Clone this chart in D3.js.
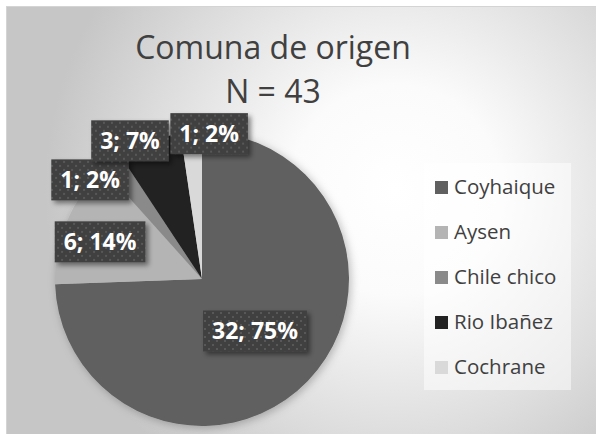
<!DOCTYPE html>
<html>
<head>
<meta charset="utf-8">
<script src="https://cdn.jsdelivr.net/npm/d3@7"></script>
<style>
  html, body { margin: 0; padding: 0; background: #ffffff; }
  svg { display: block; }
</style>
</head>
<body>
<svg id="chart" width="596" height="434"></svg>
<script>
// ---- data ----
const categories = ["Coyhaique", "Aysen", "Chile chico", "Rio Ibañez", "Cochrane"];
const values = [32, 6, 1, 3, 1];
const percentLabels = ["75%", "14%", "2%", "7%", "2%"];
const titleLines = ["Comuna de origen", "N = 43"];

// ---- styles / layout ----
const sliceColors = ["#606060", "#b4b4b4", "#8a8a8a", "#222222", "#d9d9d9"];
const labelRadius = [0.505, 0.738, 1.017, 1.06, 0.99];   // fraction of pie radius
const labelAngleShift = [0.5, -3, -10.8, -6.6, 7];      // degrees, best-fit nudges

const W = 596, H = 434;
const cx = 202, cy = 279, R = 147;

const svg = d3.select("#chart");
const defs = svg.append("defs");

// background radial gradient
const bg = defs.append("radialGradient").attr("id", "bgGrad")
  .attr("gradientUnits", "userSpaceOnUse")
  .attr("cx", 395).attr("cy", 190).attr("r", 350);
[[0, "#ffffff"], [0.3, "#fbfbfb"], [0.72, "#dcdcdc"], [1, "#c6c6c6"]].forEach(([o, c]) =>
  bg.append("stop").attr("offset", o).attr("stop-color", c));

// dot pattern for label boxes
const pat = defs.append("pattern").attr("id", "dots")
  .attr("patternUnits", "userSpaceOnUse").attr("width", 8).attr("height", 8);
pat.append("rect").attr("width", 8).attr("height", 8).attr("fill", "#404040");
pat.append("rect").attr("x", 1).attr("y", 1).attr("width", 2).attr("height", 2).attr("fill", "#585858");
pat.append("rect").attr("x", 5).attr("y", 5).attr("width", 2).attr("height", 2).attr("fill", "#585858");

// shadows
const sh = defs.append("filter").attr("id", "boxShadow")
  .attr("x", "-20%").attr("y", "-30%").attr("width", "150%").attr("height", "170%");
sh.append("feDropShadow").attr("dx", 3).attr("dy", 3).attr("stdDeviation", 2.5)
  .attr("flood-color", "#000").attr("flood-opacity", 0.45);
const psh = defs.append("filter").attr("id", "pieShadow")
  .attr("x", "-20%").attr("y", "-20%").attr("width", "140%").attr("height", "140%");
psh.append("feDropShadow").attr("dx", 2).attr("dy", 2).attr("stdDeviation", 4)
  .attr("flood-color", "#000").attr("flood-opacity", 0.25);

// chart area
svg.append("rect").attr("x", 6.5).attr("y", 6.5).attr("width", W).attr("height", H)
  .attr("fill", "url(#bgGrad)").attr("stroke", "#d4d4d4").attr("stroke-width", 1);

// title
const title = svg.append("text")
  .attr("text-anchor", "middle")
  .attr("font-family", "'Open Sans', sans-serif")
  .attr("font-size", 32)
  .attr("fill", "#404040");
title.selectAll("tspan").data(titleLines).join("tspan")
  .attr("x", 273)
  .attr("y", (d, i) => 59 + i * 44)
  .text(d => d);

// pie
const color = d3.scaleOrdinal().domain(categories).range(sliceColors);
const pie = d3.pie().sort(null).value(d => d.value);
const data = categories.map((c, i) => ({ name: c, value: values[i], pct: percentLabels[i], i }));
const arcs = pie(data);
const arc = d3.arc().innerRadius(0).outerRadius(R);

const pieG = svg.append("g").attr("transform", `translate(${cx},${cy})`)
  .attr("filter", "url(#pieShadow)");
pieG.selectAll("path").data(arcs).join("path")
  .attr("d", arc)
  .attr("fill", d => color(d.data.name));

// labels
const labG = svg.append("g").attr("transform", `translate(${cx},${cy})`);
arcs.forEach((a, k) => {
  const mid = (a.startAngle + a.endAngle) / 2 + labelAngleShift[k] * Math.PI / 180;
  const r = R * labelRadius[k];
  const x = Math.sin(mid) * r, y = -Math.cos(mid) * r;
  const g = labG.append("g").attr("transform", `translate(${x},${y})`);
  const rect = g.append("rect").attr("fill", "url(#dots)").attr("filter", "url(#boxShadow)");
  const t = g.append("text")
    .attr("text-anchor", "middle")
    .attr("font-family", "'Open Sans', sans-serif")
    .attr("font-weight", "bold")
    .attr("font-size", 23)
    .attr("fill", "#ffffff")
    .attr("y", 8.5)
    .text(`${a.data.value}; ${a.data.pct}`);
  const tw = t.node().getComputedTextLength();
  const bw = tw + 18, bh = 41;
  rect.attr("x", -bw / 2).attr("y", -bh / 2).attr("width", bw).attr("height", bh);
});

// legend
svg.append("rect").attr("x", 424).attr("y", 163).attr("width", 147).attr("height", 227)
  .attr("fill", "#ffffff").attr("fill-opacity", 0.5);
const leg = svg.append("g");
const legRows = leg.selectAll("g").data(categories).join("g")
  .attr("transform", (d, i) => `translate(435, ${181 + i * 45})`);
legRows.append("rect").attr("width", 13).attr("height", 13).attr("fill", d => color(d));
legRows.append("text")
  .attr("x", 19).attr("y", 13)
  .attr("font-family", "'Open Sans', sans-serif")
  .attr("font-size", 20.5)
  .attr("fill", "#404040")
  .text(d => d);
</script>
</body>
</html>
